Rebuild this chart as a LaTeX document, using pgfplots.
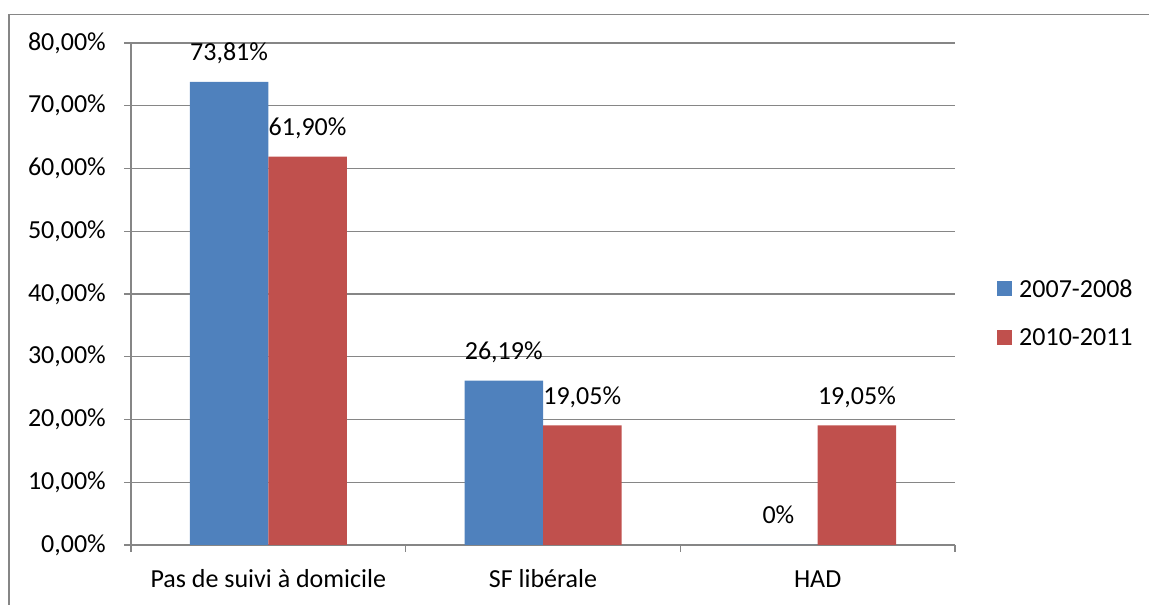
\documentclass[border=0pt]{standalone}
\usepackage{fontspec}
\setmainfont{Carlito}
\usepackage{pgfplots}
\pgfplotsset{compat=1.18}
\definecolor{barblue}{HTML}{4F81BD}
\definecolor{barred}{HTML}{C0504D}
\definecolor{gridc}{HTML}{868686}
\newcommand{\cf}{\fontsize{26}{31}\selectfont}
\begin{document}
\begin{tikzpicture}[x=1pt,y=1pt]
\useasboundingbox (0,0) rectangle (1149,605);
\draw[gridc, line width=1.3pt] (9,-2) -- (9,590.5) -- (1151,590.5);
\begin{axis}[
  at={(131pt,60pt)}, anchor=south west,
  scale only axis, width=824pt, height=502pt,
  xmin=-0.5, xmax=2.5, ymin=0, ymax=80,
  ybar=0pt, bar width=78.5pt,
  axis x line*=bottom, axis y line*=left,
  axis line style={-, gridc, line width=1.3pt},
  ymajorgrids, grid style={gridc, line width=1.3pt},
  ytick={0,10,20,30,40,50,60,70,80},
  yticklabels={{0,00\%},{10,00\%},{20,00\%},{30,00\%},{40,00\%},{50,00\%},{60,00\%},{70,00\%},{80,00\%}},
  xtick={0,1,2},
  xticklabels={Pas de suivi à domicile, SF libérale, HAD},
  minor xtick={-0.5,0.5,1.5,2.5},
  tick align=outside,
  major tick length=7pt, minor tick length=7pt,
  tick style={gridc, line width=1.3pt},
  major x tick style={draw=none},
  every tick label/.append style={font=\cf, text=black},
  yticklabel style={anchor=east, inner sep=0pt, xshift=-18pt},
  xticklabel style={anchor=base, inner sep=0pt, yshift=-36pt},
  point meta=explicit symbolic,
  nodes near coords,
  nodes near coords style={font=\cf, text=black, anchor=base, inner sep=0pt, yshift=21pt},
  legend style={at={(1.051,0.462)}, anchor=west, draw=none, fill=none, font=\cf, inner sep=0pt, row sep=30pt,
    nodes={inner sep=0pt}},
  legend cell align=left,
]
\addplot[fill=barblue, draw=none, legend image code/.code={\fill[barblue] (0pt,-7.5pt) rectangle (15pt,7.5pt); \path (22pt,0pt);}]
  coordinates {(0,73.81) [73,81\%] (1,26.19) [26,19\%] (2,0) [0\%]};
\addplot[fill=barred, draw=none, legend image code/.code={\fill[barred] (0pt,-7.5pt) rectangle (15pt,7.5pt); \path (22pt,0pt);}]
  coordinates {(0,61.90) [61,90\%] (1,19.05) [19,05\%] (2,19.05) [19,05\%]};
\legend{2007-2008,2010-2011}
\end{axis}
\end{tikzpicture}
\end{document}
